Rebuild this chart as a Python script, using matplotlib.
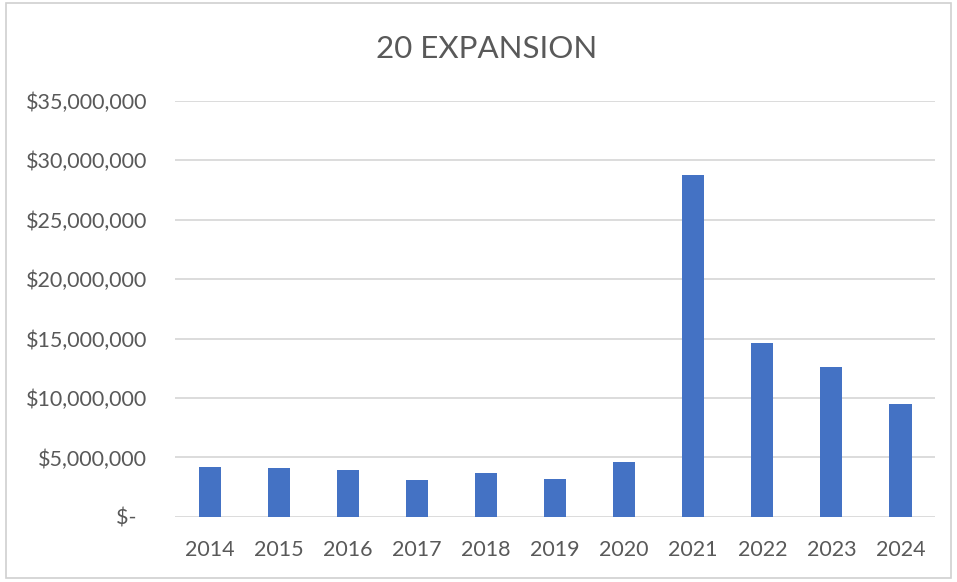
import matplotlib.pyplot as plt
from matplotlib.ticker import FuncFormatter

years = ["2014", "2015", "2016", "2017", "2018", "2019", "2020", "2021", "2022", "2023", "2024"]
amounts = [4210000, 4090000, 3980000, 3110000, 3670000, 3220000, 4630000,
           28810000, 14670000, 12630000, 9510000]

BAR = "#4472C4"
GRID = "#D9D9D9"
TXT = "#595959"

plt.rcParams["font.family"] = ["Lato", "DejaVu Sans"]


def dollars(v, pos):
    if v == 0:
        return "$-  "
    return f"${v:,.0f}"


fig = plt.figure(figsize=(9.57, 5.82), dpi=100)
fig.patches.append(plt.Rectangle((0.006, 0.007), 0.988, 0.987, transform=fig.transFigure,
                                 fill=False, edgecolor="#D0D0D0", linewidth=1.2))
ax = fig.add_axes([0.183, 0.112, 0.794, 0.7145])

x = range(len(years))
ax.bar(x, amounts, width=0.32, color=BAR, zorder=3)

ax.set_ylim(0, 35000000)
ax.set_xlim(-0.5, len(years) - 0.5)
ax.set_yticks(range(0, 35000001, 5000000))
ax.yaxis.set_major_formatter(FuncFormatter(dollars))
ax.set_xticks(list(x))
ax.set_xticklabels(years)

ax.grid(True, axis="y", color=GRID, linewidth=1.3, zorder=0)
for s in ax.spines.values():
    s.set_visible(False)
ax.tick_params(axis="both", length=0, labelsize=15.5, labelcolor=TXT)
ax.tick_params(axis="y", pad=20)
ax.tick_params(axis="x", pad=17)

fig.text(0.508, 0.915, "20 EXPANSION", ha="center", va="center", fontsize=22.5, color=TXT)

fig.savefig("out.png", dpi=100)
